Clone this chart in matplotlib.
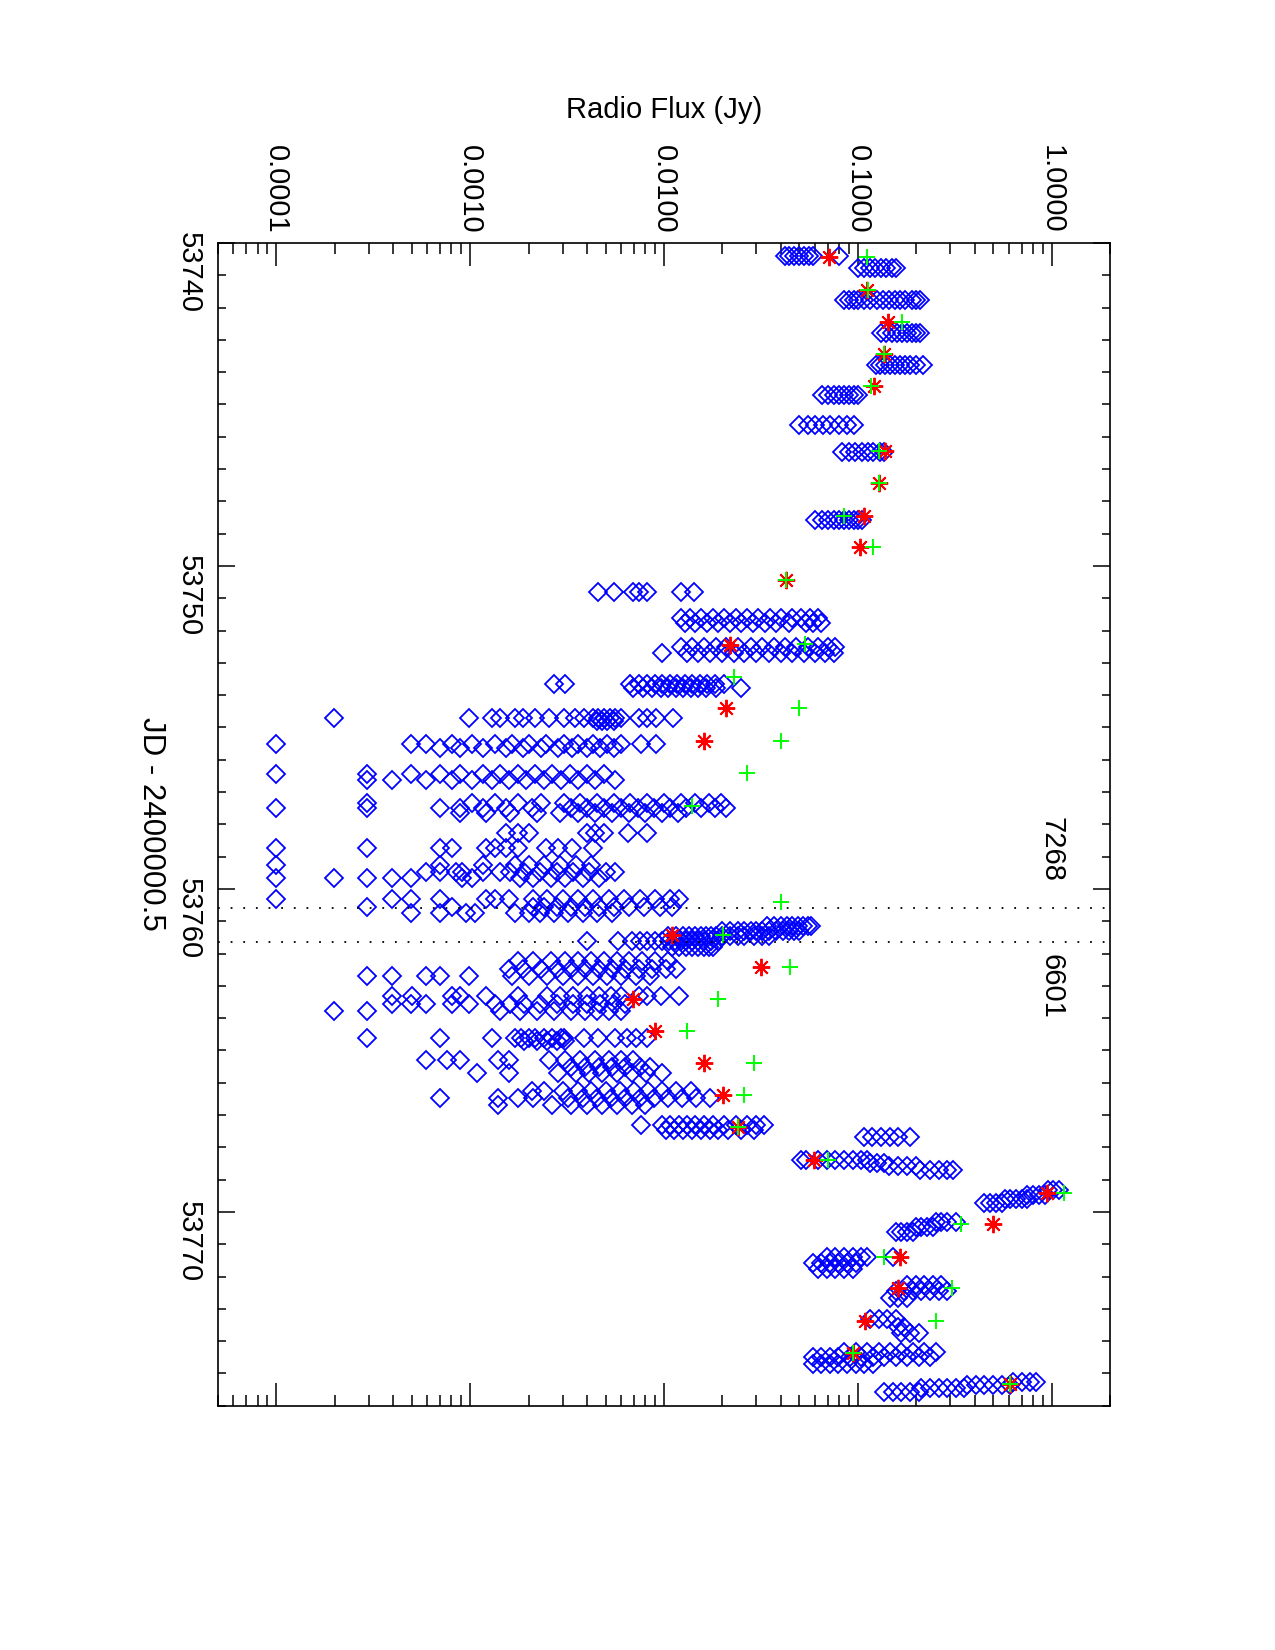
import numpy as np
import matplotlib
matplotlib.use("Agg")
import matplotlib.pyplot as plt
from matplotlib.ticker import FixedLocator, MultipleLocator, FuncFormatter, NullFormatter

plt.rcParams["font.family"] = ["Liberation Sans", "DejaVu Sans"]

# ── data: diamonds grouped in rows (one JD per row, many fluxes) ─────────────
dia_jd = [
    53740.40, 53740.77, 53741.75, 53742.79, 53743.77, 53744.72, 53745.65,
    53746.47, 53748.57, 53750.80,
    53751.60, 53751.75, 53752.50, 53752.68, 53753.65, 53753.78,
    53754.72, 53754.80, 53755.50, 53755.62, 53756.45, 53756.62,
    53757.35, 53757.50, 53757.65, 53758.28, 53758.74,
    53759.26, 53759.46, 53759.67, 53760.32, 53760.55, 53760.75,
    53761.15, 53761.30, 53761.45, 53761.62, 53761.80,
    53762.22, 53762.47, 53762.70,
    53763.30, 53763.55, 53763.78, 53764.60, 53764.72,
    53765.29, 53765.50, 53765.71, 53766.25, 53766.48, 53766.70,
    53767.30, 53767.45, 53767.67, 53768.39, 53768.48, 53768.58, 53768.70,
    53769.72, 53769.60, 53769.48, 53769.33,
    53770.62, 53770.45, 53770.30,
    53771.40, 53771.58, 53771.75,
    53772.25, 53772.45, 53772.65,
    53773.30, 53773.55, 53773.75,
    53774.32, 53774.50, 53774.70,
    53775.58, 53775.46, 53775.35, 53775.25,
]
dia_flux = [
    [0.042, 0.044, 0.047, 0.050, 0.053, 0.056, 0.059, 0.080],
    [0.100, 0.107, 0.115, 0.123, 0.132, 0.140, 0.150, 0.157],
    [0.085, 0.090, 0.095, 0.100, 0.107, 0.115, 0.125, 0.135, 0.145, 0.155,
     0.165, 0.175, 0.190, 0.200, 0.210],
    [0.132, 0.140, 0.150, 0.160, 0.170, 0.180, 0.190, 0.200, 0.210],
    [0.124, 0.130, 0.138, 0.146, 0.155, 0.165, 0.175, 0.185, 0.200, 0.217],
    [0.065, 0.070, 0.075, 0.080, 0.085, 0.090, 0.095, 0.100],
    [0.050, 0.055, 0.060, 0.066, 0.072, 0.080, 0.088, 0.095],
    [0.083, 0.090, 0.097, 0.105, 0.113, 0.120, 0.130, 0.137],
    [0.060, 0.065, 0.070, 0.075, 0.080, 0.085, 0.090, 0.095, 0.100, 0.105],
    [0.00458, 0.0055, 0.0069, 0.0074, 0.0082, 0.0122, 0.0143],
    [0.0122, 0.0136, 0.0155, 0.0178, 0.0204, 0.0234, 0.0268, 0.0307, 0.0352,
     0.0402, 0.046, 0.051, 0.0565, 0.0626],
    [0.0128, 0.0145, 0.0166, 0.019, 0.0218, 0.025, 0.0287, 0.033, 0.038,
     0.044, 0.054, 0.0585, 0.0647],
    [0.0122, 0.014, 0.016, 0.0185, 0.021, 0.024, 0.028, 0.032, 0.037, 0.042,
     0.048, 0.055, 0.062, 0.07, 0.0767],
    [0.00975, 0.0131, 0.015, 0.0172, 0.02, 0.023, 0.026, 0.030, 0.035, 0.040,
     0.046, 0.053, 0.06, 0.068, 0.075],
    [0.0027, 0.0031, 0.0067, 0.0074, 0.0082, 0.009, 0.0098, 0.0107, 0.0117,
     0.0128, 0.014, 0.0153, 0.0167, 0.0184, 0.0204],
    [0.0069, 0.0078, 0.0087, 0.0096, 0.0105, 0.0115, 0.0125, 0.0137, 0.015,
     0.0164, 0.0185, 0.025],
    [0.000199, 0.00099, 0.0013, 0.00143, 0.0017, 0.00188, 0.00216, 0.00256,
     0.00304, 0.00349, 0.00386, 0.00428, 0.00458, 0.0049, 0.00525, 0.00562,
     0.00602, 0.00739, 0.00819, 0.00907, 0.0111],
    [0.0045, 0.0048, 0.0051, 0.0055],
    [0.0001, 0.000498, 0.000591, 0.000804, 0.00102, 0.00134, 0.00164,
     0.00202, 0.00247, 0.00304, 0.00361, 0.00428, 0.00507, 0.00602, 0.00764,
     0.00907],
    [0.000701, 0.000891, 0.00117, 0.00153, 0.00188, 0.00231, 0.00284,
     0.00337, 0.004, 0.0047, 0.0055],
    [0.0001, 0.000295, 0.000498, 0.000701, 0.000891, 0.00117, 0.00143,
     0.00176, 0.00216, 0.00265, 0.00326, 0.004, 0.0049],
    [0.000295, 0.000393, 0.000591, 0.000804, 0.00102, 0.0013, 0.00159,
     0.00195, 0.0024, 0.00294, 0.00361, 0.00443, 0.00562],
    [0.000295, 0.00102, 0.00134, 0.00176, 0.00231, 0.00304, 0.0037, 0.0045,
     0.0055, 0.0067, 0.0082, 0.0100, 0.0122, 0.0145, 0.017, 0.0197],
    [0.0001, 0.000295, 0.000701, 0.000891, 0.00117, 0.00153, 0.00209, 0.0033,
     0.004, 0.0049, 0.006, 0.0073, 0.0089, 0.0108, 0.013, 0.0155, 0.0184,
     0.021],
    [0.000891, 0.00121, 0.0016, 0.0022, 0.0029, 0.0036, 0.0044, 0.0054,
     0.0066, 0.008, 0.0098, 0.0118],
    [0.00153, 0.00176, 0.00202, 0.004, 0.00443, 0.0049, 0.00653, 0.00819],
    [0.0001, 0.000295, 0.000701, 0.000804, 0.00121, 0.00134, 0.00153,
     0.00176, 0.00247, 0.00284, 0.00337, 0.00428],
    [0.0001, 0.000701, 0.00117, 0.0017, 0.0020, 0.0024, 0.0029, 0.0035,
     0.0042],
    [0.000591, 0.000701, 0.00085, 0.00091, 0.00117, 0.00143, 0.0016, 0.0019,
     0.0023, 0.0028, 0.0034, 0.0041, 0.005, 0.0056],
    [0.0001, 0.000199, 0.000295, 0.000393, 0.000498, 0.00091, 0.00102,
     0.0018, 0.0021, 0.0026, 0.0031, 0.0038, 0.0046],
    [0.0001, 0.000393, 0.000498, 0.000701, 0.00121, 0.00134, 0.00159, 0.0021,
     0.0025, 0.003, 0.0036, 0.0043, 0.0052, 0.0062, 0.0075, 0.009, 0.0108,
     0.012],
    [0.000295, 0.000804, 0.0021, 0.0024, 0.0028, 0.0033, 0.0039, 0.0046,
     0.0055, 0.0066, 0.0079, 0.0095, 0.011],
    [0.000498, 0.000701, 0.00095, 0.00106, 0.0017, 0.0020, 0.0023, 0.0027,
     0.0032, 0.0038, 0.0045, 0.0054],
    [0.034, 0.037, 0.040, 0.043, 0.046, 0.049, 0.052, 0.055, 0.057],
    [0.020, 0.022, 0.024, 0.026, 0.028, 0.030, 0.032, 0.035, 0.038, 0.041,
     0.044, 0.047, 0.050],
    [0.0105, 0.0115, 0.0125, 0.0135, 0.0145, 0.0155, 0.0165, 0.0175, 0.0185,
     0.020, 0.022, 0.024, 0.026, 0.029, 0.032, 0.035],
    [0.00402, 0.0058, 0.0068, 0.0075, 0.0082, 0.009, 0.0098, 0.0106, 0.0114,
     0.0122, 0.013, 0.014, 0.015, 0.016, 0.0175, 0.019],
    [0.011, 0.012, 0.013, 0.014, 0.015, 0.016, 0.017, 0.018],
    [0.00176, 0.0021, 0.0026, 0.0031, 0.0036, 0.0042, 0.0049, 0.0057, 0.0066,
     0.0077, 0.009, 0.0105],
    [0.00159, 0.00188, 0.00231, 0.0028, 0.0033, 0.0039, 0.0046, 0.0054,
     0.0063, 0.0074, 0.0087, 0.0102, 0.0115],
    [0.000295, 0.000393, 0.000591, 0.000701, 0.00099, 0.00164, 0.002, 0.0025,
     0.003, 0.0036, 0.0043, 0.0051, 0.006, 0.0072, 0.0085],
    [0.000393, 0.0005, 0.000804, 0.000891, 0.00121, 0.00176, 0.0025, 0.0029,
     0.0034, 0.004, 0.0046, 0.0053, 0.006, 0.0074, 0.0082, 0.0097, 0.0119],
    [0.000393, 0.000498, 0.000591, 0.000804, 0.000988, 0.00134, 0.0016,
     0.0019, 0.0023, 0.0028, 0.0034, 0.0040, 0.0047, 0.0055, 0.0063],
    [0.000199, 0.000295, 0.00143, 0.0018, 0.0022, 0.0027, 0.0033, 0.0039,
     0.0045, 0.0052, 0.006],
    [0.000295, 0.000701, 0.0013, 0.0017, 0.00182, 0.00202, 0.00216, 0.00239,
     0.00265, 0.00294, 0.00304, 0.00386, 0.00458, 0.00562, 0.00644, 0.00714,
     0.00819],
    [0.0019, 0.0022, 0.0025, 0.0028, 0.0031],
    [0.000591, 0.00076, 0.000891, 0.00139, 0.00159, 0.00256, 0.0031, 0.0037,
     0.0044, 0.0052, 0.006, 0.0069],
    [0.0033, 0.0039, 0.0046, 0.0054, 0.0063, 0.0075, 0.0085],
    [0.00109, 0.00159, 0.00284, 0.0035, 0.0041, 0.0048, 0.0057, 0.0068,
     0.0081, 0.00971],
    [0.00209, 0.00239, 0.003, 0.0036, 0.0042, 0.005, 0.0059, 0.007, 0.0083,
     0.0098, 0.0116, 0.0137],
    [0.000701, 0.00139, 0.00176, 0.0021, 0.0032, 0.0038, 0.0045, 0.0053,
     0.0063, 0.0075, 0.0089, 0.0105, 0.0124, 0.0147, 0.0172],
    [0.00139, 0.00265, 0.0033, 0.0040, 0.0048, 0.0057, 0.0068, 0.008],
    [0.00764, 0.00971, 0.0107, 0.0119, 0.0131, 0.0145, 0.0161, 0.0178,
     0.0204, 0.0234, 0.0268, 0.0297, 0.0329],
    [0.0102, 0.0113, 0.0126, 0.014, 0.0155, 0.0172, 0.019, 0.0215, 0.025,
     0.029],
    [0.108, 0.119, 0.132, 0.146, 0.162, 0.186],
    [0.051, 0.054, 0.0626, 0.0693, 0.0767, 0.0849, 0.0941, 0.1042, 0.1115],
    [0.115, 0.125, 0.137],
    [0.145, 0.162, 0.18, 0.199],
    [0.21, 0.236, 0.261, 0.289, 0.31],
    [0.450, 0.482, 0.516, 0.553],
    [0.572, 0.612, 0.655, 0.701, 0.750],
    [0.750, 0.803, 0.860, 0.921],
    [0.953, 1.02, 1.09],
    [0.157, 0.168, 0.180, 0.192],
    [0.199, 0.213, 0.228, 0.245],
    [0.253, 0.270, 0.289, 0.321],
    [0.0693, 0.0767, 0.0849, 0.0941, 0.1042, 0.1115, 0.152],
    [0.0585, 0.0647, 0.0717, 0.0793, 0.0879, 0.0973],
    [0.0626, 0.0693, 0.0767, 0.0849, 0.0941],
    [0.180, 0.199, 0.220, 0.245, 0.270],
    [0.157, 0.174, 0.192, 0.213, 0.236, 0.261, 0.289],
    [0.146, 0.162, 0.180],
    [0.115, 0.128, 0.142, 0.157],
    [0.162, 0.174],
    [0.168, 0.186, 0.206],
    [0.0849, 0.0973, 0.1115, 0.128, 0.146, 0.168, 0.192, 0.220, 0.253],
    [0.0585, 0.0647, 0.0717, 0.0793, 0.0909, 0.1042, 0.1194, 0.137, 0.157,
     0.180, 0.206, 0.236],
    [0.0585, 0.0647, 0.0717, 0.0793, 0.0879, 0.0973, 0.1078, 0.1194],
    [0.137, 0.152, 0.168, 0.186, 0.206],
    [0.213, 0.236, 0.261, 0.289, 0.321, 0.355],
    [0.367, 0.406, 0.450, 0.499, 0.553, 0.612],
    [0.633, 0.701, 0.776, 0.831],
]

# red asterisks
star_jd = [53740.42, 53741.45, 53742.45, 53743.44, 53744.44, 53746.43,
           53747.43, 53748.45, 53749.42, 53750.43, 53752.45, 53754.41,
           53755.42, 53761.42, 53762.42, 53763.42, 53764.39, 53765.38,
           53766.37, 53767.36, 53768.39, 53769.40, 53770.37, 53771.38,
           53772.36, 53773.36, 53774.35, 53775.32]
star_flux = [0.071, 0.111, 0.143, 0.137, 0.121, 0.138,
             0.128, 0.108, 0.103, 0.0428, 0.0218, 0.0208,
             0.016, 0.0110, 0.0317, 0.0069, 0.0090, 0.0161,
             0.0201, 0.0241, 0.0595, 0.947, 0.500, 0.165,
             0.161, 0.109, 0.094, 0.612]

# green pluses
plus_jd = [53740.42, 53741.45, 53742.45, 53743.44, 53744.44, 53746.43,
           53747.43, 53748.45, 53749.42, 53750.43, 53752.41, 53753.43,
           53754.41, 53755.42, 53756.42, 53757.43, 53760.39, 53761.42,
           53762.42, 53763.42, 53764.39, 53765.38, 53766.37, 53767.36,
           53768.39, 53769.40, 53770.37, 53771.38, 53772.36, 53773.36,
           53774.35, 53775.32]
plus_flux = [0.112, 0.113, 0.169, 0.137, 0.117, 0.128,
             0.128, 0.085, 0.120, 0.0428, 0.0536, 0.0230,
             0.0499, 0.0402, 0.0267, 0.0140, 0.0402, 0.0201,
             0.0445, 0.0189, 0.0131, 0.0291, 0.0258, 0.0241,
             0.0701, 1.16, 0.339, 0.137, 0.305, 0.252,
             0.094, 0.612]

# dotted event lines and their labels
event_jd = [53760.59, 53761.63]
event_label = ["7268", "6601"]
event_label_jd = [53758.79, 53763.03]

flux_ticks = [0.0001, 0.001, 0.01, 0.1, 1.0]
jd_ticks = [53740, 53750, 53760, 53770]

FS = 21

fig = plt.figure(figsize=(12.75, 16.5), dpi=100)
ax = fig.add_axes([0.17098, 0.14800, 0.69961, 0.70473])

lens = [len(r) for r in dia_flux]
dx = np.concatenate([np.asarray(r) for r in dia_flux])
dy = np.repeat(dia_jd, lens)
ax.plot(dx, dy, ls="none", marker="D", ms=9, mfc="none", mec="#0000ff", mew=1.3)
ax.plot(star_flux, star_jd, ls="none", marker=(8, 2, 0), ms=12.5, mec="#ff0000",
        mew=1.4)
ax.plot(plus_flux, plus_jd, ls="none", marker="+", ms=12, mec="#00ff00", mew=1.4)

for jd in event_jd:
    ax.axhline(jd, color="k", lw=1.3, ls=(0, (1, 6)))
for jd, lab in zip(event_label_jd, event_label):
    ax.text(1.0, jd, lab, rotation=270, ha="center", va="center", fontsize=FS)

ax.set_xscale("log")
ax.set_xlim(5e-5, 2)
ax.set_ylim(53776, 53740)

ax.xaxis.set_major_locator(FixedLocator(flux_ticks))
ax.xaxis.set_major_formatter(FuncFormatter(lambda v, p: "%.4f" % v))
ax.xaxis.set_minor_formatter(NullFormatter())
ax.yaxis.set_major_locator(FixedLocator(jd_ticks))
ax.yaxis.set_minor_locator(MultipleLocator(1))
ax.yaxis.set_major_formatter(FuncFormatter(lambda v, p: "%d" % v))

ax.tick_params(axis="x", which="both", direction="in", top=True, bottom=True,
               labeltop=True, labelbottom=False, labelrotation=270,
               labelsize=FS, pad=7, width=1.1)
ax.tick_params(axis="x", which="major", length=16.5)
ax.tick_params(axis="x", which="minor", length=8)
ax.tick_params(axis="y", which="both", direction="in", left=True, right=True,
               labelleft=True, labelrotation=270, labelsize=FS, pad=11.2,
               width=1.1)
ax.tick_params(axis="y", which="major", length=12.5)
ax.tick_params(axis="y", which="minor", length=6)
for s in ax.spines.values():
    s.set_linewidth(1.2)

fig.text(664 / 1275, 1 - 110 / 1650, "Radio Flux (Jy)", ha="center",
         va="center", fontsize=FS)
fig.text(151 / 1275, 1 - 824 / 1650, "JD - 2400000.5", rotation=270,
         ha="center", va="center", fontsize=22.5)

fig.savefig("out.png", dpi=100, facecolor="white")
